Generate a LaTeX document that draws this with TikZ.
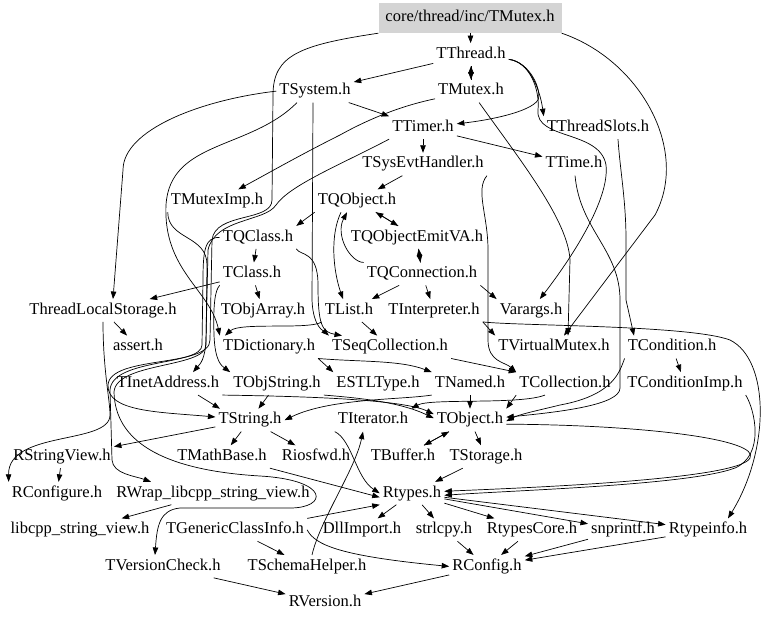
\documentclass[tikz,border=0pt]{standalone}
\usepackage{fontspec}
\setmainfont{Liberation Serif}
\newfontfamily\dotfont{Liberation Serif}
\usetikzlibrary{arrows.meta, positioning}

\begin{document}
\begin{tikzpicture}[x=1pt, y=-1pt, on grid, node distance=36.56pt,
    hdr/.style={font=\dotfont\fontsize{16.5}{18}\selectfont, text height=11pt, text depth=3.5pt, inner xsep=3pt, inner ysep=4pt},
    rootbox/.style={hdr, fill=black!17, minimum width=183pt, minimum height=30pt},
    dep/.style={draw=black, line width=0.7pt, -{Triangle[length=7.5pt, width=5.5pt]}}]
    \useasboundingbox (0,0) rectangle (768,622);
    \node (root) [rootbox] at (470,18) {core/thread/inc/TMutex.h};%the file itself
    \node (thread) [hdr, below=of root, xshift=1pt] {TThread.h};
    \node (mutex) [hdr, below=of thread] {TMutex.h};
    \node (system) [hdr, left=156pt of mutex] {TSystem.h};
    \node (timer) [hdr, below=of mutex, xshift=-48pt] {TTimer.h};
    \node (slots) [hdr, right=175pt of timer] {TThreadSlots.h};
    \node (sysevt) [hdr, below=of timer] {TSysEvtHandler.h};
    \node (ttime) [hdr, right=151pt of sysevt] {TTime.h};
    \node (qobject) [hdr, below=of sysevt, xshift=-66pt] {TQObject.h};
    \node (muteximp) [hdr, left=140pt of qobject] {TMutexImp.h};
    \node (qclass) [hdr, below=of qobject, xshift=-99pt] {TQClass.h};
    \node (emitva) [hdr, right=159pt of qclass] {TQObjectEmitVA.h};
    \node (tclass) [hdr, below=of qclass, xshift=-6pt] {TClass.h};
    \node (qconn) [hdr, right=170pt of tclass] {TQConnection.h};
    \node (objarray) [hdr, below=of tclass, xshift=11pt] {TObjArray.h};
    \node (tls) [hdr, left=160pt of objarray] {ThreadLocalStorage.h};
    \node (tlist) [hdr, right=86pt of objarray] {TList.h};
    \node (interp) [hdr, right=85pt of tlist] {TInterpreter.h};
    \node (varargs) [hdr, right=97pt of interp] {Varargs.h};
    \node (dict) [hdr, below=of objarray, xshift=6pt] {TDictionary.h};
    \node (assert) [hdr, left=131pt of dict] {assert.h};
    \node (seqcoll) [hdr, right=121pt of dict] {TSeqCollection.h};
    \node (vmutex) [hdr, right=164pt of seqcoll] {TVirtualMutex.h};
    \node (cond) [hdr, right=118pt of vmutex] {TCondition.h};
    \node (objstring) [hdr, below=of dict, xshift=8pt] {TObjString.h};
    \node (inet) [hdr, left=109pt of objstring] {TInetAddress.h};
    \node (estl) [hdr, right=101pt of objstring] {ESTLType.h};
    \node (named) [hdr, right=92pt of estl] {TNamed.h};
    \node (coll) [hdr, right=95pt of named] {TCollection.h};
    \node (condimp) [hdr, right=120pt of coll] {TConditionImp.h};
    \node (tobject) [hdr, below=of named] {TObject.h};
    \node (iter) [hdr, left=97pt of tobject] {TIterator.h};
    \node (tstring) [hdr, left=123pt of iter] {TString.h};
    \node (mathbase) [hdr, below=of tstring, xshift=-28pt] {TMathBase.h};
    \node (rsv) [hdr, left=160pt of mathbase] {RStringView.h};
    \node (iosfwd) [hdr, right=94pt of mathbase] {Riosfwd.h};
    \node (buffer) [hdr, right=87pt of iosfwd] {TBuffer.h};
    \node (storage) [hdr, right=83pt of buffer] {TStorage.h};
    \node (rwrap) [hdr, below=of mathbase, xshift=-9pt] {RWrap\_libcpp\_string\_view.h};
    \node (rconfigure) [hdr, left=156pt of rwrap] {RConfigure.h};
    \node (rtypes) [hdr, right=199pt of rwrap] {Rtypes.h};
    \node (genclass) [hdr, below=of rwrap, xshift=22pt] {TGenericClassInfo.h};
    \node (libcpp) [hdr, left=155pt of genclass] {libcpp\_string\_view.h};
    \node (dllimport) [hdr, right=127pt of genclass] {DllImport.h};
    \node (strlcpy) [hdr, right=82pt of dllimport] {strlcpy.h};
    \node (rtcore) [hdr, right=88pt of strlcpy] {RtypesCore.h};
    \node (snprintf) [hdr, right=91pt of rtcore] {snprintf.h};
    \node (rtinfo) [hdr, right=85pt of snprintf] {Rtypeinfo.h};
    \node (schema) [hdr, below=of genclass, xshift=72pt] {TSchemaHelper.h};
    \node (vcheck) [hdr, left=144pt of schema] {TVersionCheck.h};
    \node (rconfig) [hdr, right=180pt of schema] {RConfig.h};
    \node (rversion) [hdr, below=of schema, xshift=18pt] {RVersion.h};
    % top rows
    \draw[dep] (root) to (thread);
    \draw[dep] (root.south east) .. controls (640,60) and (690,150) .. (655,215) -- ([xshift=10pt]vmutex.north);
    \draw[dep] (root.south west) .. controls (300,45) and (273,55) .. (273,95) -- (272,200) .. controls (272,222) and (215,212) .. (212,240) -- (210,340) .. controls (210,368) and (110,355) .. (108,385) .. controls (107,412) and (160,412) .. (tstring);
    \draw[dep] (thread) to (system);
    \draw[dep] (thread) to (mutex);
    \draw[dep] (mutex) to (thread);
    \draw[dep] (thread) .. controls (530,62) and (540,90) .. (slots.north west);
    \draw[dep] (thread) .. controls (530,62) and (542,90) .. (538,100) .. controls (530,112) and (490,120) .. (timer);
    \draw[dep] (thread) .. controls (530,62) and (540,90) .. (538,110) .. controls (535,140) and (600,130) .. (606,165) .. controls (610,200) and (570,260) .. (varargs);
    \draw[dep] (mutex) .. controls (420,102) and (385,110) .. (340,135) .. controls (300,155) and (265,175) .. (muteximp);
    \draw[dep] (mutex) .. controls (520,160) and (568,220) .. (570,260) -- ([xshift=14pt]vmutex.north);
    \draw[dep] (system) to (timer);
    \draw[dep] (system.west) .. controls (200,100) and (123,130) .. (123,170) -- ([xshift=10pt]tls.north);
    \draw[dep] ([xshift=-18pt]system.south) .. controls (250,150) and (170,140) .. (166,205) .. controls (163,270) and (210,290) .. (dict.north west);
    \draw[dep] ([xshift=-2pt]system.south) -- (312,300) .. controls (313,328) and (325,332) .. (seqcoll.north west);
    \draw[dep] (timer) to (sysevt);
    \draw[dep] (timer) to (ttime);
    \draw[dep] (timer.south west) .. controls (340,165) and (290,185) .. (276,205) .. controls (265,222) and (215,218) .. (208,250) -- (206,340) .. controls (205,360) and (200,364) .. ([xshift=25pt]inet.north);
    \draw[dep] (sysevt) to (qobject);
    \draw[dep] (sysevt.south east) .. controls (475,190) and (488,215) .. (488,250) -- (488,340) .. controls (488,362) and (505,362) .. (coll.north west);
    \draw[dep] (ttime) .. controls (580,230) and (620,250) .. (620,300) -- (620,388) .. controls (620,405) and (560,412) .. ([yshift=3pt]tobject.east);
    \draw[dep] ([xshift=20pt]slots.south) .. controls (620,170) and (626,200) .. (626,240) -- (626,300) -- ([xshift=-38pt]cond.north);
    % middle rows
    \draw[dep] (qobject) to (emitva);
    \draw[dep] (emitva) to (qobject);
    \draw[dep] (emitva) to (qconn);
    \draw[dep] (qconn) to (emitva);
    \draw[dep] ([xshift=-16pt]qobject.south) .. controls (330,235) and (333,270) .. ([xshift=-6pt]tlist.north);
    \draw[dep] (qconn.north west) .. controls (350,262) and (335,235) .. ([xshift=-10pt]qobject.south);
    \draw[dep] (qobject.south west) to (qclass.north east);
    \draw[dep] (qclass) to (tclass);
    \draw[dep] (qclass.south east) .. controls (300,256) and (318,250) .. (318,285) .. controls (318,325) and (322,332) .. ([xshift=-48pt]seqcoll.north);
    \draw[dep] (qclass.west) .. controls (205,237) and (203,250) .. (203,280) -- (202,345) .. controls (202,366) and (112,358) .. (110,390) -- (112,460) .. controls (113,474) and (135,476) .. ([xshift=-62pt]rwrap.north);
    \draw[dep] (tclass) to (tls);
    \draw[dep] (tclass) to (objarray);
    \draw[dep] (tclass.south west) .. controls (215,290) and (213,305) .. (214,335) .. controls (215,362) and (222,366) .. (objstring.north west);
    \draw[dep] (muteximp.south west) .. controls (168,240) and (207,235) .. (207,265) -- (206,345) .. controls (206,368) and (116,362) .. (114,392) .. controls (115,440) and (160,470) .. (260,476) .. controls (330,480) and (328,508) .. (290,508) -- (180,508) .. controls (160,510) and (157,525) .. ([xshift=-8pt]vcheck.north);
    \draw[dep] (tls) to (assert);
    \draw[dep] (tls.south) .. controls (103,370) and (110,400) .. (110,415) .. controls (110,445) and (8,430) .. (rconfigure.north west);
    \draw[dep] (qconn) to (tlist);
    \draw[dep] (qconn) to (interp);
    \draw[dep] (qconn.south east) to (varargs.north west);
    \draw[dep] (tlist) to (seqcoll);
    \draw[dep] (tlist.south west) .. controls (310,330) and (240,322) .. ([xshift=-44pt]dict.north);
    \draw[dep] (interp.south east) to (vmutex.north west);
    \draw[dep] (interp.south east) .. controls (520,326) and (690,325) .. (730,340) .. controls (770,360) and (770,450) .. ([xshift=20pt]rtinfo.north);
    \draw[dep] (dict.south east) to (estl.north west);
    \draw[dep] (dict.south east) .. controls (360,362) and (400,360) .. (named.north west);
    \draw[dep] (seqcoll.south east) to (coll.north west);
    \draw[dep] (cond) to (condimp);
    \draw[dep] (cond.south west) .. controls (620,370) and (615,395) .. (560,405) .. controls (540,410) and (520,414) .. ([yshift=-1pt]tobject.east);
    \draw[dep] (coll.south west) to (tobject.north east);
    \draw[dep] ([xshift=-20pt]coll.south) .. controls (520,405) and (430,398) .. (iter.north east);
    \draw[dep] (named) to (tobject);
    \draw[dep] (named.south west) .. controls (400,400) and (330,398) .. (tstring.east);
    \draw[dep] ([xshift=30pt]inet.south) to ([xshift=-30pt]tstring.north);
    \draw[dep] (inet.south east) .. controls (280,396) and (400,398) .. ([yshift=6pt]tobject.west);
    \draw[dep] (objstring) to (tstring);
    \draw[dep] (objstring.south east) .. controls (360,398) and (400,402) .. ([yshift=2pt]tobject.west);
    % lower rows
    \draw[dep] (condimp.south east) .. controls (755,410) and (765,455) .. (735,468) .. controls (690,485) and (520,490) .. ([yshift=-2pt]rtypes.east);
    \draw[dep] ([yshift=-4pt]tobject.east) .. controls (650,425) and (760,440) .. (750,458) .. controls (740,480) and (520,488) .. ([yshift=2pt]rtypes.east);
    \draw[dep] (tobject) to (buffer);
    \draw[dep] (buffer) to (tobject);
    \draw[dep] (tobject) to (storage);
    \draw[dep] (storage) to (rtypes);
    \draw[dep] (iter.south west) .. controls (352,440) and (356,478) .. (rtypes.west);
    \draw[dep] ([xshift=5pt]schema.north) .. controls (320,520) and (355,470) .. ([xshift=-10pt]iter.south);
    \draw[dep] (tstring) to (rsv);
    \draw[dep] (tstring) to (mathbase);
    \draw[dep] (tstring) to (iosfwd);
    \draw[dep] (rsv) to (rconfigure);
    \draw[dep] (rwrap) to (libcpp);
    \draw[dep] (mathbase.south east) to ([yshift=-4pt]rtypes.west);
    \draw[dep] (genclass.north east) to (rtypes.south west);
    \draw[dep] (genclass) to (schema);
    \draw[dep] (genclass.east) .. controls (315,545) and (340,556) .. (rconfig.west);
    \draw[dep] (rtypes) to (dllimport);
    \draw[dep] (rtypes) to (strlcpy);
    \draw[dep] (rtypes) to (rtcore);
    \draw[dep] (rtypes) to (snprintf);
    \draw[dep] (rtypes) to (rtinfo);
    \draw[dep] (strlcpy) to (rconfig);
    \draw[dep] (rtcore) to (rconfig);
    \draw[dep] (snprintf) to (rconfig);
    \draw[dep] (rtinfo) to (rconfig);
    \draw[dep] (rconfig) to (rversion);
    \draw[dep] (vcheck) to (rversion);
\end{tikzpicture}
\end{document}
